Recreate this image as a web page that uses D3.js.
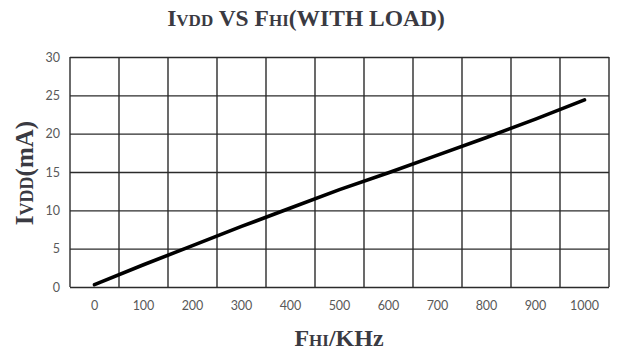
<!DOCTYPE html>
<html><head><meta charset="utf-8">
<script src="https://cdn.jsdelivr.net/npm/d3@7"></script>
<style>
html,body{margin:0;padding:0;background:#fff;}
svg{display:block;}
</style></head>
<body>
<svg id="chart" width="617" height="353"></svg>
<script>
const categories = ["0","100","200","300","400","500","600","700","800","900","1000"];
const iddValues = [0.3, 2.9, 5.4, 7.9, 10.3, 12.7, 14.9, 17.2, 19.5, 21.9, 24.4];
const yTicks = [0, 5, 10, 15, 20, 25, 30];

const svg = d3.select("#chart");
const m = {left: 70, right: 8, top: 57, bottom: 66};
const W = 617, H = 353;
const x = d3.scaleBand().domain(categories).range([m.left, W - m.right]).padding(0);
const y = d3.scaleLinear().domain([0, 30]).range([H - m.bottom, m.top]);
const gridColor = "#2b2b2b";

// horizontal gridlines + y labels
const yAxis = svg.append("g").attr("transform", `translate(${m.left},0)`)
  .call(d3.axisLeft(y).tickValues(yTicks).tickSize(-(W - m.right - m.left)).tickPadding(10));
yAxis.select(".domain").remove();
yAxis.selectAll(".tick line").attr("stroke", gridColor).attr("stroke-width", 1.4);
yAxis.selectAll(".tick text").attr("fill", "#595959").attr("font-family", "Lato, 'Open Sans', sans-serif").attr("font-size", 12.5);

// vertical gridlines at band boundaries
const bounds = categories.map(c => x(c)).concat([x.range()[1]]);
svg.append("g").selectAll("line").data(bounds).join("line")
  .attr("x1", d => d).attr("x2", d => d)
  .attr("y1", y(30)).attr("y2", y(0))
  .attr("stroke", gridColor).attr("stroke-width", 1.4);

// x labels
const xAxis = svg.append("g").attr("transform", `translate(0,${y(0)})`)
  .call(d3.axisBottom(x).tickSize(0).tickPadding(14));
xAxis.select(".domain").remove();
xAxis.selectAll(".tick text").attr("fill", "#595959").attr("font-family", "Lato, 'Open Sans', sans-serif").attr("font-size", 12.5);

// line
const line = d3.line().x((d, i) => x(categories[i]) + x.bandwidth() / 2).y(d => y(d));
svg.append("path").datum(iddValues).attr("d", line)
  .attr("fill", "none").attr("stroke", "#000").attr("stroke-width", 3.6).attr("stroke-linecap", "round");

// Titles with small caps style
function smallCapsText(sel, parts, big, small) {
  parts.forEach(p => {
    sel.append("tspan").attr("font-size", p[1] ? small : big).text(p[0]);
  });
}
const serif = "'Liberation Serif', 'Times New Roman', serif";
const title = svg.append("text").attr("x", 306).attr("y", 26).attr("text-anchor", "middle")
  .attr("font-family", serif).attr("font-weight", "bold").attr("fill", "#3a3a42");
smallCapsText(title, [["I",0],["VDD",1],[" VS F",0],["HI",1],["(WITH LOAD)",0]], 23.5, 17);

const xt = svg.append("text").attr("x", 339).attr("y", 346).attr("text-anchor", "middle")
  .attr("font-family", serif).attr("font-weight", "bold").attr("fill", "#3a3a42");
smallCapsText(xt, [["F",0],["HI",1],["/KHz",0]], 24, 17);

const yt = svg.append("text").attr("transform", "translate(33,173) rotate(-90)").attr("text-anchor", "middle")
  .attr("font-family", serif).attr("font-weight", "bold").attr("fill", "#3a3a42");
smallCapsText(yt, [["I",0],["VDD",1],["(mA)",0]], 25, 18);
</script>
</body></html>
